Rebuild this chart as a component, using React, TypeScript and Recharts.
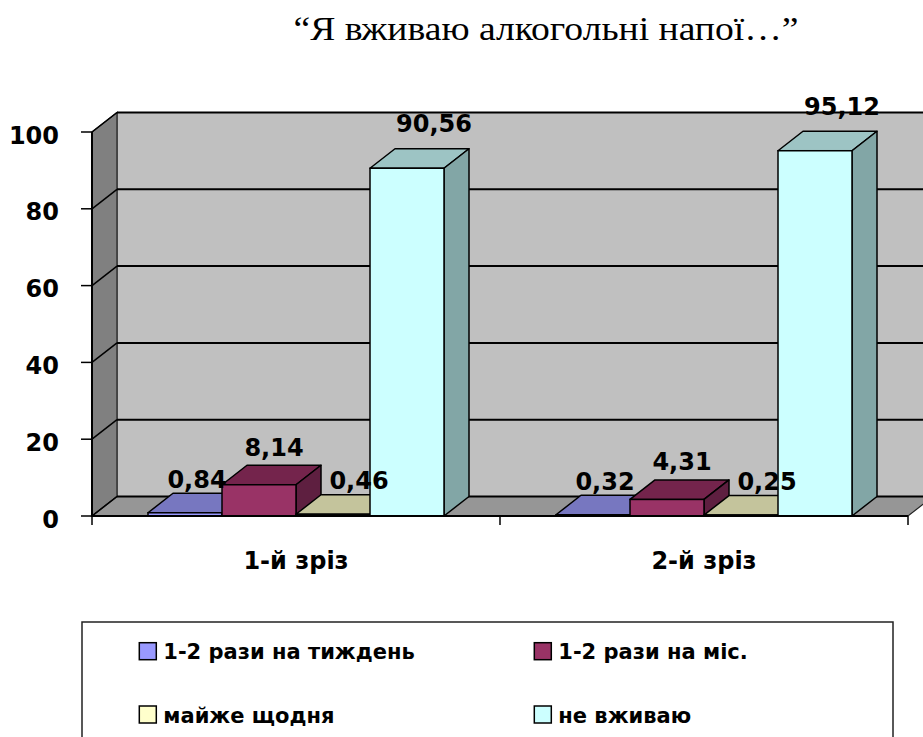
import React from 'react';
import { BarChart, Bar, XAxis, YAxis, CartesianGrid, LabelList } from 'recharts';

// ---- data ----
const categories = ['1-й зріз', '2-й зріз'];
const seriesNames = ['1-2 рази на тиждень', '1-2 рази на міс.', 'майже щодня', 'не вживаю'];
const weekly = [0.84, 0.32];
const monthly = [8.14, 4.31];
const daily = [0.46, 0.25];
const never = [90.56, 95.12];
const yTicks = [0, 20, 40, 60, 80, 100];
const title = '“Я вживаю алкогольні напої…”';

const seriesValues = [weekly, monthly, daily, never];
const seriesKeys = ['s0', 's1', 's2', 's3'];
const data = categories.map((c, i) => {
  const row: any = { name: c };
  seriesKeys.forEach((k, j) => (row[k] = seriesValues[j][i]));
  return row;
});

// ---- style ----
const W = 923;
const H = 737;
const PL = 92;
const PR = 908;
const PT = 132;
const PB = 516;
const XAXIS_H = 40;
const DX = 25;
const DY = -19.5;
const FONT = '"DejaVu Sans", sans-serif';

const frontColors = ['#9999FF', '#993366', '#FFFFCC', '#CCFFFF'];
const topColors = ['#7777C0', '#74244C', '#C4C49C', '#9DC4C4'];
const sideColors = ['#6060A0', '#5E1F40', '#A5A585', '#82A6A6'];
const labelDx = [12, 15, 26, 27];
const labelDy = [-25, -29, -25.5, -36];

const fmt = (v: number) => v.toFixed(2).replace('.', ',');

function Box3D(props: any) {
  const { x, y, width, height, idx } = props;
  if (x == null || y == null) return null;
  const x2 = x + width;
  const yb = y + height;
  const sw = 1.5;
  return (
    <g>
      <path
        d={`M${x},${y} L${x + DX},${y + DY} L${x2 + DX},${y + DY} L${x2},${y} Z`}
        fill={topColors[idx]}
        stroke="#000"
        strokeWidth={sw}
        strokeLinejoin="round"
      />
      <path
        d={`M${x2},${y} L${x2 + DX},${y + DY} L${x2 + DX},${yb + DY} L${x2},${yb} Z`}
        fill={sideColors[idx]}
        stroke="#000"
        strokeWidth={sw}
        strokeLinejoin="round"
      />
      <rect x={x} y={y} width={width} height={Math.max(height, 0.5)} fill={frontColors[idx]} stroke="#000" strokeWidth={sw} />
    </g>
  );
}

const makeLabel = (idx: number) => (p: any) => {
  const vb = p.viewBox || {};
  const x = p.x ?? vb.x;
  const y = p.y ?? vb.y;
  const w = p.width ?? vb.width;
  if (x == null || y == null) return null;
  return (
    <text
      x={x + w / 2 + labelDx[idx]}
      y={y + labelDy[idx]}
      textAnchor="middle"
      fontFamily={FONT}
      fontWeight="bold"
      fontSize={24}
      fill="#000"
    >
      {fmt(Number(p.value))}
    </text>
  );
};

function YTick(props: any) {
  const { x, y, payload } = props;
  return (
    <text x={x} y={y + 3} dy="0.355em" textAnchor="end" fontFamily={FONT} fontWeight="bold" fontSize={24} fill="#000">
      {payload.value}
    </text>
  );
}

function XTick(props: any) {
  const { x, y, payload, index } = props;
  const half = payload.offset || (PR - PL) / categories.length / 2;
  return (
    <g>
      <line x1={x - half} y1={y} x2={x - half} y2={y + 9} stroke="#000" strokeWidth={1.5} />
      {index === categories.length - 1 && (
        <line x1={x + half} y1={y} x2={x + half} y2={y + 9} stroke="#000" strokeWidth={1.5} />
      )}
      <text x={x} y={y + 53} textAnchor="middle" fontFamily={FONT} fontWeight="bold" fontSize={24} fill="#000">
        {payload.value}
      </text>
    </g>
  );
}

const gridLine = (p: any) => (
  <g key={`gl-${p.index}`}>
    <line x1={p.x1 + DX} y1={p.y1 + DY} x2={p.x2 + DX + 40} y2={p.y2 + DY} stroke="#000" strokeWidth={2} />
    <line x1={p.x1} y1={p.y1} x2={p.x1 + DX} y2={p.y1 + DY} stroke="#000" strokeWidth={1.5} />
  </g>
);

function Background() {
  const legendRows = [
    [0, 1],
    [2, 3],
  ];
  const colX = [139.3, 534.3];
  const rowY = [642.7, 706];
  return (
    <svg width={W} height={H} style={{ position: 'absolute', left: 0, top: 0 }}>
      <g transform="translate(546,39.5) scale(1.14,1)">
        <text x={0} y={0} textAnchor="middle" fontFamily='"Liberation Serif", "Times New Roman", serif' fontSize={33} fill="#000">
          {title}
        </text>
      </g>
      {/* back wall */}
      <polygon
        points={`${PL + DX},${PT + DY} ${PR + DX},${PT + DY} ${PR + DX},${PB + DY} ${PL + DX},${PB + DY}`}
        fill="#C0C0C0"
        stroke="#333"
        strokeWidth={1}
      />
      {/* left wall */}
      <polygon
        points={`${PL},${PT} ${PL + DX},${PT + DY} ${PL + DX},${PB + DY} ${PL},${PB}`}
        fill="#808080"
        stroke="#222"
        strokeWidth={1.2}
      />
      {/* floor */}
      <polygon
        points={`${PL},${PB} ${PL + DX},${PB + DY} ${PR + DX},${PB + DY} ${PR},${PB}`}
        fill="#969696"
        stroke="#222"
        strokeWidth={1.2}
      />
      {/* legend */}
      <rect x={82} y={622} width={811} height={140} fill="#fff" stroke="#222" strokeWidth={1.5} />
      {legendRows.map((row, ri) =>
        row.map((si, ci) => (
          <g key={`lg-${si}`}>
            <rect x={colX[ci]} y={rowY[ri]} width={17} height={17} fill={frontColors[si]} stroke="#000" strokeWidth={1.5} />
            <text x={colX[ci] + 24} y={rowY[ri] + 16.6} fontFamily={FONT} fontWeight="bold" fontSize={21} fill="#000">
              {seriesNames[si]}
            </text>
          </g>
        ))
      )}
    </svg>
  );
}

export default function App() {
  return (
    <div style={{ position: 'absolute', left: 0, top: 0, width: W, height: H, background: '#fff', overflow: 'hidden' }}>
      <Background />
      <div style={{ position: 'absolute', left: 0, top: 0 }}>
        <BarChart
          width={W}
          height={H}
          data={data}
          margin={{ top: PT, right: W - PR, bottom: H - PB - XAXIS_H, left: 0 }}
          barCategoryGap={56}
          barGap={0}
        >
          <CartesianGrid vertical={false} horizontal={gridLine} />
          <XAxis
            dataKey="name"
            height={XAXIS_H}
            axisLine={{ stroke: '#000', strokeWidth: 2 }}
            tickLine={false}
            tickSize={0}
            tickMargin={0}
            tick={<XTick />}
            interval={0}
          />
          <YAxis
            width={PL}
            domain={[0, 100]}
            ticks={yTicks}
            axisLine={{ stroke: '#000', strokeWidth: 2 }}
            tickLine={{ stroke: '#000', strokeWidth: 1.5 }}
            tickSize={11}
            tickMargin={22}
            tick={<YTick />}
            interval={0}
          />
          {seriesKeys.map((k, i) => (
            <Bar
              key={k}
              dataKey={k}
              name={seriesNames[i]}
              fill={frontColors[i]}
              isAnimationActive={false}
              shape={(p: any) => <Box3D {...p} idx={i} />}
            >
              <LabelList dataKey={k} content={makeLabel(i)} />
            </Bar>
          ))}
        </BarChart>
      </div>
    </div>
  );
}
